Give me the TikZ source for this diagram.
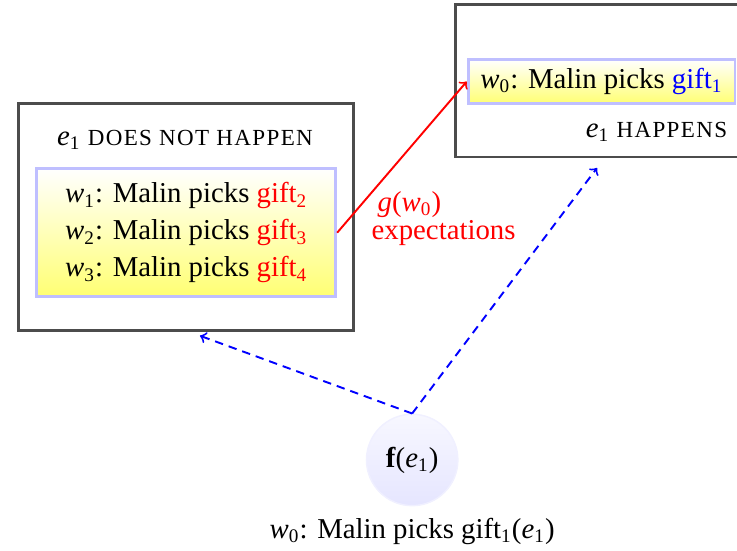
\documentclass[tikz,border=0pt]{standalone}
\usepackage{fontspec}
\setmainfont{Liberation Serif}
\newfontfamily\capsfont[LetterSpace=6]{Liberation Serif}
\newcommand{\vw}[1]{\textit{w}\textsubscript{#1}}
\newcommand{\gft}[1]{gift\textsubscript{#1}}
\newcommand{\evt}{\textit{e}\textsubscript{1}}
\newcommand{\smc}[1]{{\capsfont\fontsize{9.6}{11}\selectfont #1}}
\tikzset{
  outerbox/.style={draw=black!70, line width=1.2pt, fill=white},
  worldbox/.style={draw=blue!25, line width=1.2pt, top color=white, bottom color=yellow!55},
  ballnode/.style={circle, draw=blue!6, line width=0.6pt, top color=blue!3, bottom color=blue!10, minimum size=1.34cm},
  hint/.style={blue, line width=0.8pt, dash pattern=on 3.5pt off 2.5pt, ->},
  tag/.style={red, inner sep=0pt, align=left, font=\fontsize{12}{10}\selectfont},
}
\begin{document}
\begin{tikzpicture}[font=\fontsize{12}{14}\selectfont, >=to]
  \useasboundingbox (0,0) rectangle (10.8,8.07);
  % Left box: e1 does not happen
  \node[outerbox, minimum width=4.91cm, minimum height=3.33cm] (lbox) at (2.72,4.89) {};
  \node (ltitle) at (2.71,6.02) {\evt\ \smc{DOES NOT HAPPEN}};
  \node[worldbox, minimum width=4.38cm, minimum height=1.88cm, align=left] (wl) at (2.73,4.66)
    {\vw{1}: Malin picks \textcolor{red}{\gft{2}}\\[0.05cm]
     \vw{2}: Malin picks \textcolor{red}{\gft{3}}\\[0.05cm]
     \vw{3}: Malin picks \textcolor{red}{\gft{4}}};
  % Right box: e1 happens
  \node[outerbox, minimum width=4.52cm, minimum height=2.23cm] (rbox) at (8.94,6.885) {};
  \node[worldbox, minimum width=3.91cm, minimum height=0.65cm] (wr) at (8.815,6.875)
    {\vw{0}: Malin picks \textcolor{blue}{\gft{1}}};
  \node[anchor=east] (rtitle) at (10.78,6.14) {\evt\ \smc{HAPPENS}};
  % Expectations
  \draw[red, line width=0.8pt, ->] (wl.east) -- (wr.west);
  \node[tag] (glab) at (6.5,4.87) {\hspace*{2.5pt}\textit{g}(\vw{0})\\expectations};
  % Choice function
  \node[ballnode] (ball) at (6.04,1.33) {\textbf{f}(\evt)};
  \node (blab) at (6.04,0.28) {\vw{0}: Malin picks \gft{1}(\evt)};
  \coordinate (tl) at (2.93,3.15);
  \coordinate (tr) at (8.75,5.61);
  \draw[hint] (ball.north) -- (tl);
  \draw[hint] (ball.north) -- (tr);
\end{tikzpicture}
\end{document}
